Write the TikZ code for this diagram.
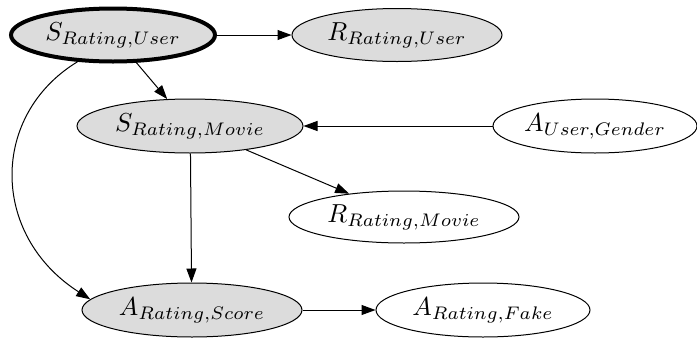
\documentclass[tikz,border=0pt]{standalone}
\usepackage{graphicx}
\usetikzlibrary{shapes.geometric,arrows.meta}
\definecolor{nodefill}{HTML}{DCDCDC}
\newcommand{\lbl}[1]{\scalebox{2.6}{$#1$}}
\begin{document}
\begin{tikzpicture}[x=1pt,y=-1pt,
  vnode/.style={ellipse,draw,line width=1pt,inner sep=0pt},
  filled/.style={fill=nodefill},
  edge/.style={line width=1pt,-{Triangle[length=14pt,width=10pt]}}]
\useasboundingbox (0,0) rectangle (697,338);
\node[vnode,filled,line width=4pt,minimum width=204pt,minimum height=53pt] (SRU) at (113,35) {\lbl{S_{Rating,User}}};
\node[vnode,filled,minimum width=210pt,minimum height=53pt] (RRU) at (397,35) {\lbl{R_{Rating,User}}};
\node[vnode,filled,minimum width=226pt,minimum height=54pt] (SRM) at (190,126) {\lbl{S_{Rating,Movie}}};
\node[vnode,minimum width=204pt,minimum height=54pt] (AUG) at (595,126) {\lbl{A_{User,Gender}}};
\node[vnode,minimum width=230pt,minimum height=52pt] (RRM) at (404,217) {\lbl{R_{Rating,Movie}}};
\node[vnode,filled,minimum width=220pt,minimum height=54pt] (ARS) at (192,310) {\lbl{A_{Rating,Score}}};
\node[vnode,minimum width=214pt,minimum height=54pt] (ARF) at (483,310) {\lbl{A_{Rating,Fake}}};
\draw[edge] (SRU) -- (RRU);
\draw[edge] (SRU) -- (SRM);
\draw[edge] (SRU.217) .. controls (-10,115) and (-10,235) .. (ARS.174);
\draw[edge] (AUG) -- (SRM);
\draw[edge] (SRM) -- (RRM);
\draw[edge] (SRM.-89) -- (ARS.91);
\draw[edge] (ARS) -- (ARF);
\end{tikzpicture}
\end{document}
